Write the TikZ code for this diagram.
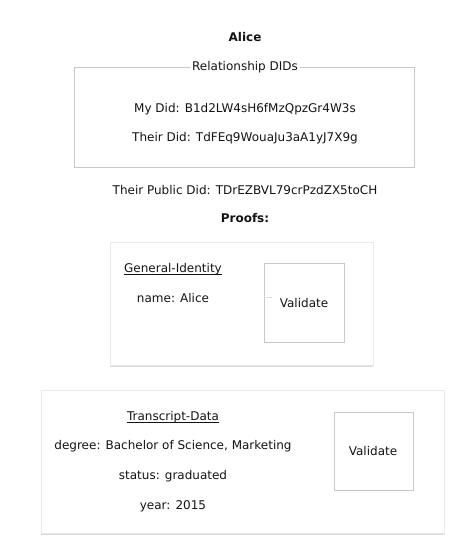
\documentclass[tikz,border=0pt]{standalone}
\usepackage{fontspec}
\setmainfont{DejaVu Sans}
\usetikzlibrary{shadows}
\definecolor{boxline}{HTML}{C8C8C8}
\definecolor{txt}{HTML}{141414}
\newcommand{\ul}[1]{\tikz[baseline=(u.base)]{\node[inner sep=0pt] (u) {#1};\draw[line width=0.6pt,txt] ([yshift=-1.8pt]u.base west) -- ([yshift=-1.8pt]u.base east);}}
\begin{document}
\begin{tikzpicture}[x=1pt,y=-1pt,
  lbl/.style={font=\fontsize{12}{14}\selectfont, text=txt, inner sep=0pt, anchor=center},
  ttl/.style={lbl, font=\fontsize{12}{14}\selectfont\bfseries},
  card/.style={draw=boxline!40, fill=white, line width=0.4pt,
    drop shadow={shadow xshift=0pt, shadow yshift=-2pt, opacity=0.3, fill=black!50}},
  valbox/.style={draw=boxline, fill=white, line width=0.6pt},
  groupbox/.style={draw=boxline, line width=0.6pt}
]
\useasboundingbox (0,0) rectangle (468,548);
\fill[white] (0,0) rectangle (468,548);

\node[ttl] (alice) at (245,37) {Alice};

\draw[groupbox] (74,67) rectangle (414,167);
\node[lbl, fill=white, inner xsep=2pt, inner ysep=1pt] (reltitle) at (245,67) {Relationship DIDs};
\node[lbl] (mydid) at (245,109) {My Did: B1d2LW4sH6fMzQpzGr4W3s};
\node[lbl] (theirdid) at (245,138) {Their Did: TdFEq9WouaJu3aA1yJ7X9g};

\node[lbl] (pubdid) at (245,190) {Their Public Did: TDrEZBVL79crPzdZX5toCH};
\node[ttl] (proofs) at (245,218) {Proofs:};

% card 1
\path[card] (110,242) rectangle (373,365);
\node[lbl] (gi) at (173,269) {\ul{General-Identity}};
\node[lbl] (name) at (173,298) {name: Alice};
\draw[valbox] (264,263) rectangle (344,342);
\coordinate (stubA) at (264,297);
\coordinate (stubB) at (272,297);
\draw[boxline!60, line width=0.4pt] (stubA) -- (stubB);
\node[lbl] (val1) at (304,303) {Validate};

% card 2
\path[card] (41,390) rectangle (444,533);
\node[lbl] (td) at (173,417) {\ul{Transcript-Data}};
\node[lbl] (degree) at (173,446) {degree: Bachelor of Science, Marketing};
\node[lbl] (status) at (173,476) {status: graduated};
\node[lbl] (year) at (173,506) {year: 2015};
\draw[valbox] (334,412) rectangle (413,490);
\node[lbl] (val2) at (373,451) {Validate};
\end{tikzpicture}
\end{document}
